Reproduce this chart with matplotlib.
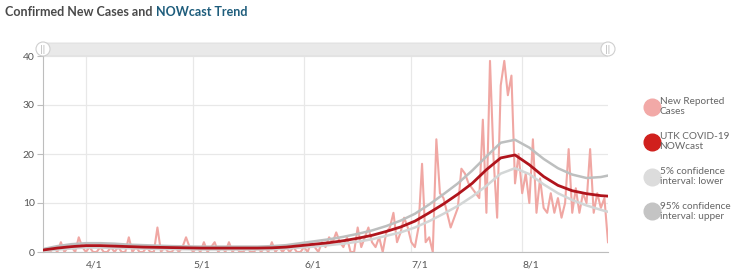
import matplotlib.pyplot as plt
import numpy as np
import pandas as pd
from matplotlib.lines import Line2D
from matplotlib.patches import FancyBboxPatch, Circle

# daily new reported cases, starting 3/20
new_cases = [0, 0, 0, 1, 0, 2, 0, 1, 1, 0,
             3, 1, 0, 1, 0, 0, 1, 0, 0, 1,
             0, 1, 0, 0, 3, 0, 1, 0, 0, 1,
             0, 0, 5, 0, 1, 0, 0, 1, 0, 1,
             3, 1, 0, 1, 0, 2, 0, 1, 2, 0,
             1, 0, 2, 0, 1, 0, 0, 1, 0, 0,
             1, 0, 1, 0, 2, 0, 1, 0, 1, 0,
             1, 0, 0, 1, 0, 2, 1, 0, 2, 1,
             3, 2, 4, 2, 1, 3, 0, 0, 5, 1,
             3, 5, 2, 1, 3, 0, 4, 5, 8, 2,
             4, 7, 5, 2, 1, 5, 18, 2, 3, 0,
             23, 12, 11, 8, 5, 7, 9, 17, 16, 14,
             13, 12, 11, 27, 8, 39, 19, 7, 34, 39,
             32, 36, 14, 20, 12, 16, 10, 23, 8, 15,
             9, 8, 12, 8, 11, 7, 10, 21, 8, 13,
             8, 12, 10, 21, 8, 12, 9, 11, 2]

# trend curves read every 4 days (day offsets from 3/20)
trend_idx = [0, 4, 8, 12, 16, 20, 24, 28, 32, 36, 40, 44, 48, 52, 56, 60, 64, 68, 72, 76,
             80, 84, 88, 92, 96, 100, 104, 108, 112, 116, 120, 124, 128, 132, 136, 140,
             144, 148, 152, 156, 158]
nowcast = [0.4, 0.8, 1.1, 1.3, 1.3, 1.2, 1.1, 1.0, 0.95, 0.9, 0.85, 0.8, 0.8, 0.8, 0.8,
           0.8, 0.85, 1.0, 1.3, 1.6, 1.9, 2.3, 2.8, 3.4, 4.2, 5.1, 6.3, 8.0, 9.8, 11.8,
           14.0, 16.8, 19.2, 19.8, 17.8, 15.4, 13.6, 12.5, 11.9, 11.5, 11.4]
ci_upper = [0.6, 1.2, 1.6, 1.8, 1.8, 1.7, 1.5, 1.4, 1.3, 1.2, 1.15, 1.1, 1.1, 1.1, 1.1,
            1.1, 1.2, 1.4, 1.8, 2.2, 2.6, 3.1, 3.7, 4.4, 5.3, 6.4, 7.8, 9.7, 11.8, 14.0,
            16.6, 19.5, 22.3, 22.9, 21.3, 19.0, 17.1, 15.8, 15.1, 15.3, 15.6]
ci_lower = [0.2, 0.5, 0.7, 0.9, 0.9, 0.8, 0.75, 0.7, 0.6, 0.6, 0.55, 0.5, 0.5, 0.5, 0.5,
            0.5, 0.55, 0.7, 0.9, 1.1, 1.4, 1.7, 2.1, 2.6, 3.3, 4.0, 5.0, 6.3, 7.8, 9.4,
            11.3, 13.5, 16.0, 17.1, 15.9, 13.8, 12.0, 10.6, 9.5, 8.6, 8.2]

month_ticks = ["2020-04-01", "2020-05-01", "2020-06-01", "2020-07-01", "2020-08-01"]
month_labels = ["4/1", "5/1", "6/1", "7/1", "8/1"]
y_ticks = [0, 10, 20, 30, 40]

dates = pd.date_range("2020-03-20", periods=len(new_cases))
tdates = dates[trend_idx]

W, H = 740, 274
fig = plt.figure(figsize=(W / 100, H / 100), dpi=100)
ax = fig.add_axes([43 / W, 1 - 252 / H, 565 / W, 196 / H])

ax.plot(dates, new_cases, color="#F0A7A3", lw=1.5, zorder=2)
ax.plot(tdates, ci_lower, color="#D3D6D6", lw=1.8, zorder=3)
ax.plot(tdates, ci_upper, color="#BDBFBF", lw=1.8, zorder=3)
ax.plot(tdates, nowcast, color="#B0141C", lw=2.0, zorder=4)

ax.set_xlim(dates[0], dates[-1])
ax.set_ylim(0, 40)
ax.set_yticks(y_ticks)
ax.set_yticklabels([str(v) for v in y_ticks])
ax.set_xticks(pd.to_datetime(month_ticks))
ax.set_xticklabels(month_labels, ha="left")
ax.grid(True, color="#E8E8E8", lw=0.9)
ax.set_axisbelow(True)
for s in ["top", "right"]:
    ax.spines[s].set_visible(False)
ax.spines["left"].set_color("#BDBDBD")
ax.spines["bottom"].set_color("#BDBDBD")
ax.tick_params(axis="y", colors="#BDBDBD", labelcolor="#555555", labelsize=7.5,
               length=4, pad=2)
ax.tick_params(axis="x", colors="#E8E8E8", labelcolor="#555555", labelsize=7.5,
               length=0, pad=6)
for lab in ax.get_xticklabels():
    lab.set_family("Lato")
for lab in ax.get_yticklabels():
    lab.set_family("Lato")

# overlay in pixel coordinates for title and range slider
ov = fig.add_axes([0, 0, 1, 1], zorder=5)
ov.set_xlim(0, W)
ov.set_ylim(H, 0)
ov.axis("off")
ov.patch.set_alpha(0)

t = ov.text(5, 12, "Confirmed New Cases and ", fontsize=9.0, fontweight="bold",
            family="Lato", color="#4A4A4A", va="center", ha="left")
fig.canvas.draw()
bb = t.get_window_extent().transformed(ov.transData.inverted())
ov.text(bb.x1, 12, "NOWcast Trend", fontsize=9.0, fontweight="bold",
        family="Lato", color="#1E5D7C", va="center", ha="left")

ov.add_patch(FancyBboxPatch((43, 43), 565, 13, boxstyle="round,pad=0,rounding_size=3",
                            fc="#E9E9E9", ec="#DDDDDD", lw=0.6))
for hx in (43, 608):
    ov.add_patch(Circle((hx, 49), 7, fc="white", ec="#CFCFCF", lw=0.8))
    ov.text(hx, 49.5, "||", fontsize=5.5, color="#AAAAAA", ha="center", va="center")

handles = [Line2D([], [], marker="o", ls="", ms=12, mfc=c, mec=c)
           for c in ["#F2A9A7", "#D0201D", "#DCDCDC", "#C4C4C4"]]
labels = ["New Reported\nCases", "UTK COVID-19\nNOWcast", "5% confidence\ninterval: lower",
          "95% confidence\ninterval: upper"]
fig.legend(handles, labels, loc="upper left", bbox_to_anchor=(637 / W, 1 - 88 / H),
           frameon=False, prop={"family": "Lato", "size": 7.2}, labelcolor="#666666",
           handletextpad=0.15, handlelength=1.2, labelspacing=1.55)

fig.savefig("out.png", dpi=100)
